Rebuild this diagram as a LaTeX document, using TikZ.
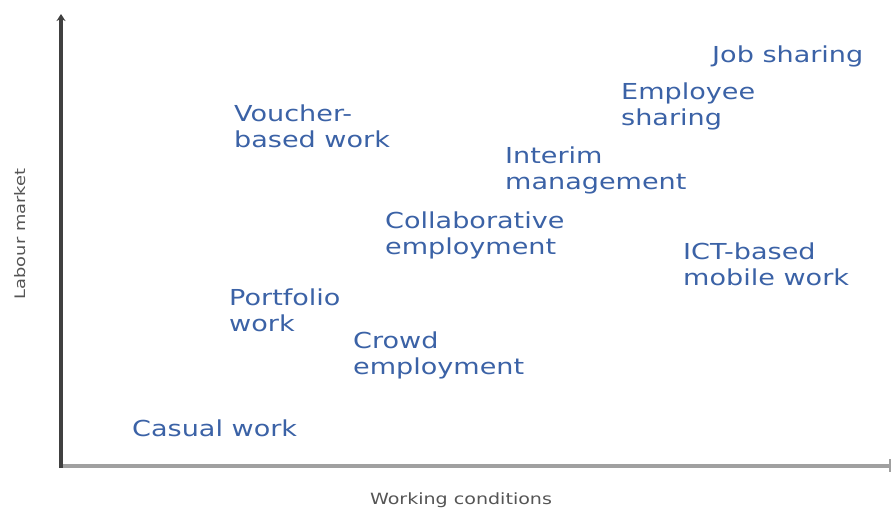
\documentclass[tikz,border=0pt]{standalone}
\usepackage{fontspec}
\setmainfont{DejaVu Sans}[FakeStretch=1.23]
\usetikzlibrary{arrows.meta}
\definecolor{lblue}{HTML}{3B62A6}
\definecolor{axdark}{HTML}{404040}
\definecolor{axgray}{HTML}{A0A0A0}
\definecolor{axlbl}{HTML}{555555}
\tikzset{
  item/.style={anchor=north west, inner sep=0pt, align=left, text=lblue,
    font=\fontsize{22}{26}\selectfont},
  axislabel/.style={inner sep=0pt, text=axlbl, font=\fontsize{14.5}{17}\selectfont}
}
\begin{document}
\begin{tikzpicture}[x=1pt,y=-1pt]
\useasboundingbox (0,0) rectangle (892,512);
\coordinate (o) at (61,466);
\coordinate (ytop) at (61,14);
\coordinate (xend) at (890,466);
\draw[axgray, line width=4.5pt] (o) -- (xend);
\draw[axgray, line width=1.5pt] (890,459) -- (890,472);
\draw[axdark, line width=3.5pt, -{Stealth[length=7pt,width=9pt]}] (61,468) -- (ytop);
\node[axislabel, rotate=90] (ylab) at (20,234) {Labour market};
\node[axislabel, font=\fontsize{15.5}{18}\selectfont] (xlab) at (461,500) {Working conditions};
\node[item] (job) at (712,46) {Job sharing};
\node[item] (emp) at (621,83) {Employee\\sharing};
\node[item] (vou) at (234,105) {Voucher-\\based work};
\node[item] (int) at (505,147) {Interim\\management};
\node[item] (col) at (385,212) {Collaborative\\employment};
\node[item] (ict) at (683,243) {ICT-based\\mobile work};
\node[item] (por) at (229,289) {Portfolio\\work};
\node[item] (cro) at (353,332) {Crowd\\employment};
\node[item] (cas) at (132,420) {Casual work};
\end{tikzpicture}
\end{document}
